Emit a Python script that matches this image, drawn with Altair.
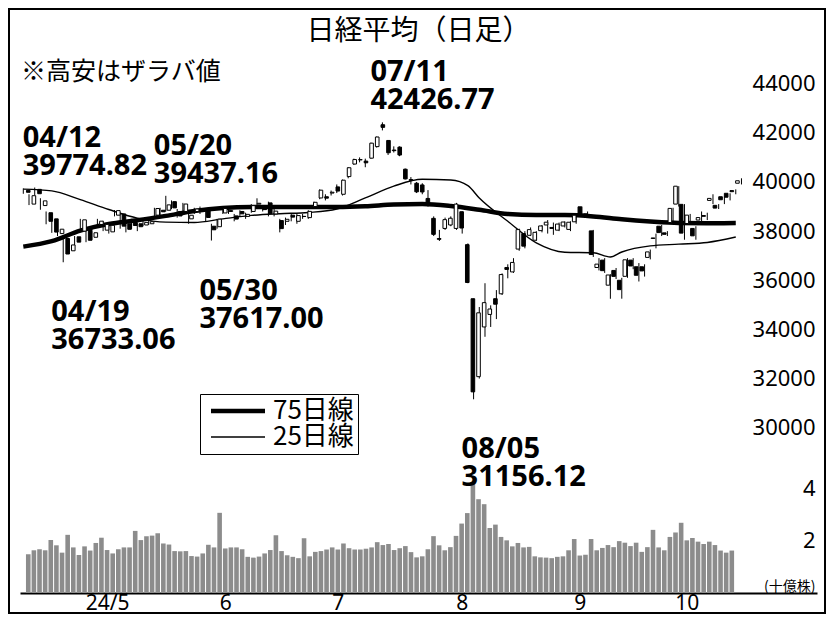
import altair as alt
import pandas as pd

# ---------------- data ----------------
dates = [
    "04/10", "04/11", "04/12", "04/15", "04/16", "04/17", "04/18", "04/19", "04/22", "04/23",
    "04/24", "04/25", "04/26", "04/30",
    "05/01", "05/02", "05/07", "05/08", "05/09", "05/10", "05/13", "05/14", "05/15", "05/16",
    "05/17", "05/20", "05/21", "05/22", "05/23", "05/24", "05/27", "05/28", "05/29", "05/30", "05/31",
    "06/03", "06/04", "06/05", "06/06", "06/07", "06/10", "06/11", "06/12", "06/13", "06/14",
    "06/17", "06/18", "06/19", "06/20", "06/21", "06/24", "06/25", "06/26", "06/27", "06/28",
    "07/01", "07/02", "07/03", "07/04", "07/05", "07/08", "07/09", "07/10", "07/11", "07/12",
    "07/16", "07/17", "07/18", "07/19", "07/22", "07/23", "07/24", "07/25", "07/26", "07/29",
    "07/30", "07/31",
    "08/01", "08/02", "08/05", "08/06", "08/07", "08/08", "08/09", "08/13", "08/14", "08/15",
    "08/16", "08/19", "08/20", "08/21", "08/22", "08/23", "08/26", "08/27", "08/28", "08/29", "08/30",
    "09/02", "09/03", "09/04", "09/05", "09/06", "09/09", "09/10", "09/11", "09/12", "09/13",
    "09/17", "09/18", "09/19", "09/20", "09/24", "09/25", "09/26", "09/27", "09/30",
    "10/01", "10/02", "10/03", "10/04", "10/07", "10/08", "10/09", "10/10", "10/11", "10/15",
]

opens = [
    39660, 39100, 39700, 39040, 38750, 38500, 37900, 37700, 37200, 37770,
    38000, 38100, 37750, 38270, 38040, 37970, 38650, 38700, 38300, 38400,
    38300, 38250, 38300, 38650, 38850, 38850, 39200, 38800, 38800, 38500,
    38800, 38900, 38850, 38200, 38180, 38740, 38800, 38620, 38800, 38600,
    38800, 39100, 38900, 39150, 38700, 38430, 38400, 38650, 38400, 38600,
    38550, 39000, 39350, 39400, 39550, 39800, 39500, 40220, 40730, 40900,
    40850, 40970, 41440, 42330, 41690, 41300, 41420, 40520, 40100, 39950,
    39880, 39330, 38520, 37700, 38110, 38250, 38110, 38790, 37450, 35249,
    32077, 34100, 34610, 35250, 35450, 36520, 36340, 37270, 37900, 37830,
    37630, 38020, 38250, 38150, 38040, 38210, 38070, 38380, 38990, 38700,
    38010, 36520, 36820, 35800, 36400, 36000, 36160, 36820, 36550, 36550,
    36930, 37700, 38200, 37930, 38350, 39100, 39090, 38310, 38110, 38450,
    38600, 39250, 39050, 39400, 39540, 39650, 39950,
]
highs = [
    39740, 39500, 39775, 39340, 38800, 38560, 38150, 37800, 37600, 37800,
    38500, 38150, 38000, 38500, 38420, 38300, 38860, 38750, 38400, 38500,
    38350, 38420, 38500, 38950, 38950, 39437, 39250, 38900, 39150, 38700,
    38950, 39000, 38900, 38300, 38500, 38950, 38900, 38700, 38850, 38750,
    39100, 39336, 39000, 39200, 38900, 38500, 38550, 38700, 38700, 38700,
    38850, 39200, 39700, 39500, 39650, 39900, 40100, 40600, 40950, 41000,
    40950, 41600, 41850, 42427, 41700, 41450, 41450, 40550, 40200, 40000,
    39950, 39670, 38600, 38050, 38550, 38600, 39150, 38800, 37500, 35250,
    34911, 35880, 34980, 35600, 36280, 36650, 36900, 38100, 38000, 38150,
    38000, 38250, 38450, 38350, 38350, 38400, 38400, 38650, 39000, 38800,
    38050, 36900, 36900, 36250, 36500, 36100, 36900, 36900, 36700, 36650,
    37250, 37900, 38250, 38000, 38950, 39830, 39100, 38700, 38200, 38800,
    38750, 39500, 39100, 39400, 39540, 39700, 40150,
]
lows = [
    39520, 39060, 39460, 38870, 38280, 37930, 37800, 36733, 37150, 37400,
    37960, 37550, 37650, 38200, 38000, 37900, 38600, 38100, 37950, 38100,
    38000, 38200, 38250, 38600, 38650, 38800, 38900, 38550, 38750, 38300,
    38700, 38700, 38400, 37617, 38100, 38700, 38700, 38400, 38600, 38500,
    38750, 39000, 38800, 38600, 38600, 37950, 38250, 38400, 38300, 38500,
    38500, 38900, 39300, 39250, 39450, 39550, 39450, 40150, 40700, 40800,
    40600, 40950, 41400, 42100, 41100, 41200, 41050, 40100, 39900, 39550,
    39500, 39000, 37800, 37600, 38050, 38200, 38050, 37900, 35880, 31156,
    32000, 33700, 34100, 34420, 35400, 36080, 36300, 37200, 37300, 37800,
    37600, 37950, 37900, 37850, 38000, 38150, 38000, 38300, 38600, 38550,
    36950, 36400, 36300, 35247, 36050, 35250, 36100, 36450, 35950, 36150,
    36850, 37300, 37800, 37800, 38300, 39000, 37650, 38250, 37650, 38400,
    38450, 39100, 38900, 39100, 39250, 39500, 39900,
]
closes = [
    39581, 39442, 39523, 39232, 38400, 37961, 38079, 37068, 37438, 37552,
    38460, 37628, 37934, 38405, 38274, 38236, 38835, 38202, 38074, 38229,
    38179, 38356, 38385, 38920, 38787, 39069, 38946, 38617, 39103, 38646,
    38900, 38855, 38556, 38054, 38487, 38923, 38837, 38490, 38703, 38683,
    39038, 39134, 38876, 38720, 38814, 38102, 38482, 38570, 38633, 38596,
    38804, 39173, 39667, 39341, 39583, 39631, 40074, 40580, 40913, 40912,
    40780, 41580, 41831, 42224, 41190, 41275, 41097, 40126, 40063, 39599,
    39594, 39154, 37869, 37667, 38468, 38525, 39101, 38126, 35909, 31458,
    34675, 35089, 34831, 35025, 36232, 36442, 36726, 38062, 37388, 38062,
    37951, 38211, 38364, 38110, 38288, 38371, 38362, 38647, 38700, 38686,
    37047, 36657, 36391, 36215, 36159, 35619, 36833, 36581, 36203, 36380,
    37155, 37723, 37940, 37870, 38925, 39829, 37919, 38651, 37808, 38552,
    38635, 39332, 38937, 39277, 39380, 39605, 40050,
]

# trading volume (billion shares)
volumes = [
    1.48, 1.63, 1.67, 1.63, 2.02, 1.82, 1.54, 2.22, 1.74, 1.45,
    1.78, 1.62, 1.91, 2.11, 1.64, 1.51, 1.67, 1.74, 1.74, 2.37,
    2.02, 2.17, 2.19, 2.28, 1.89, 1.85, 1.60, 1.59, 1.60, 1.41,
    1.39, 1.51, 1.84, 1.74, 3.06, 1.70, 1.74, 1.74, 1.67, 1.38,
    1.35, 1.39, 1.51, 1.64, 2.20, 1.60, 1.44, 1.38, 1.33, 2.09,
    1.40, 1.57, 1.60, 1.66, 1.74, 1.66, 1.89, 1.71, 1.66, 1.66,
    1.69, 1.74, 1.94, 1.83, 1.87, 1.64, 1.71, 1.79, 1.56, 1.36,
    1.40, 1.67, 2.17, 1.82, 1.63, 1.75, 2.18, 2.65, 3.05, 4.23,
    3.58, 3.39, 2.48, 2.61, 2.14, 2.01, 1.78, 1.91, 1.74, 1.76,
    1.40, 1.36, 1.35, 1.33, 1.38, 1.40, 1.63, 2.06, 1.43, 1.46,
    2.06, 1.63, 1.72, 1.83, 1.75, 1.98, 1.92, 1.79, 1.92, 1.57,
    1.75, 2.41, 1.74, 1.63, 2.14, 2.31, 2.68, 2.01, 2.10, 1.96,
    1.87, 1.96, 1.83, 1.62, 1.54, 1.62,
]

# moving averages (position = trading-day index)
ma75_idx = [0, 5, 10, 15, 20, 25, 30, 35, 40, 45, 50, 55, 60, 65, 70, 75, 80, 85,
            90, 95, 100, 105, 110, 115, 120, 125]
ma75_val = [37370, 37590, 38020, 38290, 38440, 38620, 38820, 38940, 38980, 38980,
            38980, 38980, 39010, 39080, 39100, 39020, 38870, 38700, 38655, 38653,
            38600, 38480, 38390, 38330, 38320, 38330]
ma25_idx = [0, 5, 10, 15, 20, 25, 30, 35, 40, 45, 50, 55, 60, 65, 70, 75, 78, 80,
            85, 90, 95, 100, 103, 105, 110, 115, 120, 125]
ma25_val = [39710, 39640, 39280, 38880, 38530, 38365, 38350, 38500, 38640, 38710,
            38760, 38900, 39350, 39830, 40110, 40080, 39850, 39350, 38400, 37520,
            37140, 37120, 36950, 37150, 37400, 37470, 37540, 37760]
ma_names = ["75日線", "25日線"]

month_labels = ["24/5", "6", "7", "8", "9", "10"]
price_ticks = [30000, 32000, 34000, 36000, 38000, 40000, 42000, 44000]
volume_ticks = [2, 4]

high_dates = ["04/12", "05/20", "07/11"]
high_values = [39774.82, 39437.16, 42426.77]
low_dates = ["04/19", "05/30", "08/05"]
low_values = [36733.06, 37617.00, 31156.12]

title_text = "日経平均（日足）"
note_text = "※高安はザラバ値"
volume_unit = "(十億株)"

# ---------------- layout ----------------
W, H = 797, 543
X_DOMAIN = [-0.58, 139.25]
P_DOMAIN = [23272.0, 45372.0]
V_DOMAIN = [0.0, 20.725]
JP = "Noto Sans CJK JP"
NUM = "Noto Sans"

candles = pd.DataFrame({"idx": list(range(len(dates))), "date": dates, "open": opens,
                        "high": highs, "low": lows, "close": closes})
vol = pd.DataFrame({"idx": list(range(len(volumes))), "volume": volumes})
ma = pd.DataFrame({
    "idx": ma75_idx + ma25_idx,
    "value": ma75_val + ma25_val,
    "series": [ma_names[0]] * len(ma75_idx) + [ma_names[1]] * len(ma25_idx),
})
hi_df = pd.DataFrame({"idx": [dates.index(d) for d in high_dates], "date": high_dates, "value": high_values})
lo_df = pd.DataFrame({"idx": [dates.index(d) for d in low_dates], "date": low_dates, "value": low_values})
one = pd.DataFrame({"k": [0]})

month_ticks = [i for i in range(1, len(dates)) if dates[i][:2] != dates[i - 1][:2]]
label_expr = ("[" + ",".join("'%s'" % s for s in month_labels) + "][indexof(["
              + ",".join(str(t) for t in month_ticks) + "], datum.value)]")

xs = alt.Scale(domain=X_DOMAIN, nice=False, zero=False)
ps = alt.Scale(domain=P_DOMAIN, nice=False, zero=False)
vs = alt.Scale(domain=V_DOMAIN, nice=False, zero=False)
X = alt.X("idx:Q", scale=xs, axis=None)

frame = alt.Chart(one).mark_rect(fill="white", fillOpacity=0, stroke="black", strokeWidth=2).encode(
    x=alt.value(-11), x2=alt.value(W + 8), y=alt.value(-41), y2=alt.value(H + 20)
)

volume_bars = alt.Chart(vol).mark_bar(size=4.6, color="#8c8c8c").encode(
    x=alt.X("idx:Q", scale=xs, axis=alt.Axis(
        values=month_ticks, labelExpr=label_expr, title=None, grid=False, ticks=False,
        tickSize=0, domain=True, domainColor="black", domainWidth=2, labelFont=NUM,
        labelFontSize=21, labelColor="black", labelPadding=-1, labelFlush=False,
        labelOverlap=False)),
    y=alt.Y("volume:Q", scale=vs, axis=alt.Axis(
        orient="left", offset=-W, values=volume_ticks, format="d", title=volume_unit,
        titleAngle=0, titleAlign="right", titleBaseline="middle", titleX=-2, titleY=H - 7,
        titleFont=JP, titleFontSize=14, titleFontWeight="normal", titleColor="black",
        domain=False, ticks=False, tickSize=0, grid=False, labelFont=NUM, labelFontSize=22,
        labelColor="black", labelPadding=2)),
)

lines = alt.Chart(ma).mark_line(color="black", interpolate="monotone").encode(
    x=X,
    y=alt.Y("value:Q", scale=ps, axis=None),
    detail="series:N",
    strokeWidth=alt.StrokeWidth("series:O", scale=alt.Scale(domain=ma_names, range=[4.5, 1.4]),
                                legend=alt.Legend(
                                    title=None, orient="none", legendX=180, legendY=344,
                                    direction="vertical", symbolType="M-1.2,0H9.6", symbolSize=100,
                                    symbolOffset=0, symbolStrokeColor="black", labelFont=JP,
                                    labelFontSize=26, labelColor="black", labelOffset=43,
                                    strokeColor="black", fillColor="white", padding=4,
                                    rowPadding=0)),
)

wicks = alt.Chart(candles).mark_rule(color="black", strokeWidth=1).encode(
    x=X,
    y=alt.Y("low:Q", scale=ps, axis=alt.Axis(
        orient="left", offset=-W, values=price_ticks, format="d", title=None, domain=False,
        ticks=False, tickSize=0, grid=False, labelFont=NUM, labelFontSize=22,
        labelColor="black", labelPadding=2)),
    y2="high:Q",
)

bodies = alt.Chart(candles).mark_bar(size=3.6, stroke="black", strokeWidth=1).encode(
    x=X,
    y=alt.Y("open:Q", scale=ps, axis=None),
    y2="close:Q",
    fill=alt.condition("datum.close >= datum.open", alt.value("white"), alt.value("black")),
)

ann_style = dict(align="left", baseline="middle", font=NUM, fontSize=29, fontWeight="bold",
                 color="black", dx=-12)
hi_date = alt.Chart(hi_df).mark_text(dy=-50, **ann_style).encode(
    x=X, y=alt.Y("value:Q", scale=ps, axis=None), text="date:N")
hi_val = alt.Chart(hi_df).mark_text(dy=-22, **ann_style).encode(
    x=X, y=alt.Y("value:Q", scale=ps, axis=None), text=alt.Text("value:Q", format=".2f"))
lo_date = alt.Chart(lo_df).mark_text(dy=50, **ann_style).encode(
    x=X, y=alt.Y("value:Q", scale=ps, axis=None), text="date:N")
lo_val = alt.Chart(lo_df).mark_text(dy=78, **ann_style).encode(
    x=X, y=alt.Y("value:Q", scale=ps, axis=None), text=alt.Text("value:Q", format=".2f"))

title_mark = alt.Chart(one).mark_text(
    text=title_text, font=JP, fontSize=28, align="center", baseline="middle", color="black"
).encode(x=alt.value(W / 2), y=alt.value(-18))
note_mark = alt.Chart(one).mark_text(
    text=note_text, font=JP, fontSize=25, align="left", baseline="middle", color="black"
).encode(x=alt.value(1), y=alt.value(22))

chart = (
    alt.layer(frame, volume_bars, lines, wicks, bodies, hi_date, hi_val, lo_date, lo_val,
              title_mark, note_mark)
    .resolve_scale(x="independent", y="independent")
    .properties(width=W, height=H, padding=0, background="white")
    .configure_view(stroke=None)
)

chart.save("out.html", embed_options={"renderer": "svg", "actions": False})
